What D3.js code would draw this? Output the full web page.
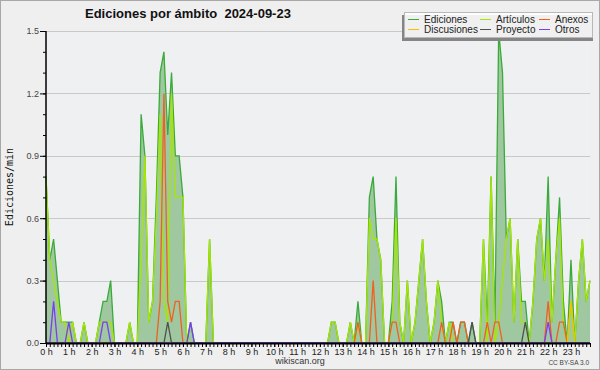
<!DOCTYPE html>
<html>
<head>
<meta charset="utf-8">
<script src="https://cdnjs.cloudflare.com/ajax/libs/d3/7.8.5/d3.min.js"></script>
<style>
body { margin: 0; background: #efefef; }
svg { display: block; }
text { font-family: "Liberation Sans", Arial, sans-serif; }
</style>
</head>
<body>
<div id="chart"></div>
<script>
// labels
var titulo = "Ediciones por ámbito  2024-09-23";
var horas = ["0 h","1 h","2 h","3 h","4 h","5 h","6 h","7 h","8 h","9 h","10 h","11 h",
             "12 h","13 h","14 h","15 h","16 h","17 h","18 h","19 h","20 h","21 h","22 h","23 h"];
var yTicks = [0, 0.3, 0.6, 0.9, 1.2, 1.5];
var yLabels = ["0.0", "0.3", "0.6", "0.9", "1.2", "1.5"];
var nombres = ["Ediciones", "Artículos", "Anexos", "Discusiones", "Proyecto", "Otros"];

// edits per minute, one value every 10 minutes (two hours per line)
var ediciones = [
  0.8,0.4,0.5,0.3,0.1,0.1, 0.1,0.1,0,0,0.1,0,
  0,0,0.1,0.2,0.2,0.3, 0,0,0,0,0.1,0,
  0,1.1,0.9,0.1,0.2,0.7, 1.3,1.4,1.0,1.3,0.9,0.9,
  0.7,0,0.1,0,0,0, 0,0.5,0,0,0,0,
  0,0,0,0,0,0, 0,0,0,0,0,0,
  0,0,0,0,0,0, 0,0,0,0,0,0,
  0,0,0,0.1,0.1,0, 0,0,0.1,0,0.2,0,
  0,0.7,0.8,0.5,0.4,0, 0,0.2,0.8,0.1,0,0.3,
  0,0.1,0.3,0.5,0.2,0, 0.1,0.3,0.2,0,0.1,0.1,
  0,0.1,0.1,0,0.1,0, 0,0.5,0.1,0.8,0.1,1.5,
  1.3,0.5,0.6,0.1,0.5,0.2, 0.2,0,0.2,0.5,0.6,0.3,
  0.8,0.1,0.4,0.7,0.2,0, 0.4,0,0.3,0.5,0.2,0.3
];
var articulos = [
  0.8,0.4,0.3,0.2,0.1,0.1, 0,0.1,0,0,0.1,0,
  0,0,0.1,0.1,0.1,0.1, 0,0,0,0,0.1,0,
  0,0.4,0.9,0.1,0.2,0.6, 1.1,0.2,0.1,1.2,0.7,0.7,
  0.7,0,0,0,0,0, 0,0.5,0,0,0,0,
  0,0,0,0,0,0, 0,0,0,0,0,0,
  0,0,0,0,0,0, 0,0,0,0,0,0,
  0,0,0,0.1,0.1,0, 0,0,0.1,0,0.1,0,
  0,0.6,0.5,0.5,0.4,0, 0,0.1,0.6,0.1,0,0.3,
  0,0.1,0.3,0.5,0.2,0, 0.1,0.3,0.1,0,0.1,0,
  0,0,0,0,0,0, 0,0.5,0,0.8,0,0.1,
  0.3,0.5,0.6,0.1,0.5,0.1, 0.1,0,0.2,0.5,0.6,0.3,
  0.5,0.1,0.4,0.6,0.1,0, 0.2,0,0.3,0.5,0.2,0.3
];
var anexos = [
  0,0,0,0,0,0, 0,0,0,0,0,0,
  0,0,0,0,0,0, 0,0,0,0,0,0,
  0,0,0,0,0,0, 0.2,1.2,0.2,0.1,0.2,0.2,
  0,0,0,0,0,0, 0,0,0,0,0,0,
  0,0,0,0,0,0, 0,0,0,0,0,0,
  0,0,0,0,0,0, 0,0,0,0,0,0,
  0,0,0,0,0,0, 0,0,0,0,0.1,0,
  0,0,0.3,0,0,0, 0,0.1,0.1,0,0,0,
  0,0,0,0,0,0, 0,0,0.1,0,0,0.1,
  0,0.1,0.1,0,0,0, 0,0,0.1,0,0.1,0.1,
  0,0,0,0,0,0, 0,0,0,0,0,0,
  0.2,0,0,0.1,0.1,0, 0,0,0,0,0,0
];
var discusiones = [
  0,0,0,0,0,0, 0,0,0,0,0,0,
  0,0,0,0,0,0, 0,0,0,0,0,0,
  0,0,0,0,0,0, 0,0,0,0,0,0,
  0,0,0,0,0,0, 0,0,0,0,0,0,
  0,0,0,0,0,0, 0,0,0,0,0,0,
  0,0,0,0,0,0, 0,0,0,0,0,0,
  0,0,0,0,0,0, 0,0,0,0,0,0,
  0,0,0,0,0,0, 0,0,0,0,0,0,
  0,0,0,0,0,0, 0,0,0,0,0,0,
  0,0,0,0,0,0, 0,0,0,0,0,0,
  0,0,0,0,0,0, 0,0,0,0,0,0,
  0,0,0,0,0,0, 0.2,0,0,0,0,0
];
var proyecto = [
  0,0,0,0,0,0, 0,0,0,0,0,0,
  0,0,0,0,0,0, 0,0,0,0,0,0,
  0,0,0,0,0,0, 0,0,0.1,0,0,0,
  0,0,0,0,0,0, 0,0,0,0,0,0,
  0,0,0,0,0,0, 0,0,0,0,0,0,
  0,0,0,0,0,0, 0,0,0,0,0,0,
  0,0,0,0,0,0, 0,0,0,0,0,0,
  0,0,0,0,0,0, 0,0,0,0,0,0,
  0,0,0,0,0,0, 0,0,0,0,0,0,
  0,0,0,0,0.1,0, 0,0,0,0,0,0,
  0,0,0,0,0,0, 0.1,0,0,0,0,0,
  0,0,0,0,0,0, 0,0,0,0,0,0
];
var otros = [
  0,0,0.2,0,0,0, 0.1,0,0,0,0,0,
  0,0,0,0.1,0.1,0, 0,0,0,0,0,0,
  0,0,0,0,0,0, 0,0,0,0,0,0,
  0,0,0.1,0,0,0, 0,0,0,0,0,0,
  0,0,0,0,0,0, 0,0,0,0,0,0,
  0,0,0,0,0,0, 0,0,0,0,0,0,
  0,0,0,0,0,0, 0,0,0,0,0,0,
  0,0,0,0,0,0, 0,0,0,0,0,0,
  0,0,0,0,0,0, 0,0,0,0,0,0,
  0,0,0,0,0,0, 0,0,0,0,0,0,
  0,0,0,0,0,0, 0,0,0,0,0,0,
  0.1,0,0,0,0,0, 0,0,0,0,0,0
];

var series = [ediciones, articulos, anexos, discusiones, proyecto, otros];
var colores = ["#3aaa3a", "#a6e600", "#f06020", "#f2c200", "#505050", "#7a3ef0"];

// setup
var width = 600, height = 370;
var plotL = 46, plotR = 590, plotT = 31, plotB = 343;

var svg = d3.select("#chart").append("svg")
  .attr("width", width)
  .attr("height", height);

svg.append("rect")
  .attr("x", 0.5).attr("y", 0.5)
  .attr("width", width - 1).attr("height", height - 1)
  .attr("fill", "#efefef")
  .attr("stroke", "#a8a8a8");

svg.append("rect")
  .attr("x", plotL).attr("y", plotT)
  .attr("width", plotR - plotL).attr("height", plotB - plotT)
  .attr("fill", "#eef0f2");

var x = d3.scaleLinear().domain([0, ediciones.length - 1]).range([plotL, plotR]);
var y = d3.scaleLinear().domain([0, 1.5]).range([plotB, plotT]);

//grid
svg.append("g").selectAll("line")
  .data(yTicks.slice(1))
  .join("line")
  .attr("x1", plotL).attr("x2", plotR)
  .attr("y1", d => Math.round(y(d)) + 0.5).attr("y2", d => Math.round(y(d)) + 0.5)
  .attr("stroke", "#c9c9c9");

//area + lines
svg.append("path")
  .datum(ediciones)
  .attr("fill", "#a0c8a0")
  .attr("d", d3.area().x((d, i) => x(i)).y0(y(0)).y1(d => y(d)));

var linea = d3.line().x((d, i) => x(i)).y(d => y(d));
series.forEach(function (s, k) {
  svg.append("path")
    .datum(s)
    .attr("fill", "none")
    .attr("stroke", colores[k])
    .attr("stroke-width", 1.3)
    .attr("d", linea);
});

//axes
var hourIdx = horas.map((h, i) => i * 6);
var xMinor = svg.append("g")
  .attr("transform", "translate(0," + plotB + ")")
  .call(d3.axisBottom(x).tickValues(ediciones.map((d, i) => i)).tickSize(4).tickFormat(""));
xMinor.select(".domain").remove();

var xAxis = svg.append("g")
  .attr("transform", "translate(0," + plotB + ")")
  .call(d3.axisBottom(x).tickValues(hourIdx).tickSize(4).tickPadding(2)
    .tickFormat((d, i) => horas[i]));
xAxis.select(".domain").attr("stroke-width", 2).attr("d", "M" + plotL + ",0.5H" + plotR);
xAxis.selectAll("text").attr("font-size", 9).attr("fill", "#222")
  .style("font-family", "Liberation Sans, Arial, sans-serif");

var yMinor = svg.append("g")
  .attr("transform", "translate(" + plotL + ",0)")
  .call(d3.axisLeft(y).tickValues(d3.range(16).map(k => k / 10)).tickSize(3).tickFormat(""));
yMinor.select(".domain").remove();

var yAxis = svg.append("g")
  .attr("transform", "translate(" + plotL + ",0)")
  .call(d3.axisLeft(y).tickValues(yTicks).tickSize(6).tickPadding(1)
    .tickFormat((d, i) => yLabels[i]));
yAxis.select(".domain").attr("stroke-width", 1.5).attr("d", "M0," + plotT + "V" + plotB);
yAxis.selectAll("text").attr("font-size", 9).attr("fill", "#444")
  .style("font-family", "Liberation Sans, Arial, sans-serif");

svg.append("text")
  .attr("transform", "translate(13,187) rotate(-90)")
  .attr("text-anchor", "middle")
  .style("font-family", "DejaVu Sans Mono, monospace")
  .attr("font-size", 10)
  .attr("fill", "#111")
  .text("Ediciones/min");

//title
svg.append("text")
  .attr("x", 85).attr("y", 18)
  .attr("font-size", 13)
  .attr("font-weight", "bold")
  .attr("fill", "#111")
  .style("white-space", "pre")
  .text(titulo);

//legend
svg.append("rect")
  .attr("x", 402).attr("y", 15).attr("width", 191).attr("height", 26)
  .attr("fill", "#858585");
svg.append("rect")
  .attr("x", 404.5).attr("y", 12.5).attr("width", 188).attr("height", 25)
  .attr("fill", "#ffffff").attr("fill-opacity", 0.88)
  .attr("stroke", "#b8b8b8");

var legX = [408, 480, 539];
var legY = [19, 29];
nombres.forEach(function (n, k) {
  var cx = legX[k % 3];
  var cy = legY[Math.floor(k / 3)];
  svg.append("line")
    .attr("x1", cx).attr("x2", cx + 11)
    .attr("y1", cy + 0.5).attr("y2", cy + 0.5)
    .attr("stroke", colores[k]).attr("stroke-width", 1);
  svg.append("text")
    .attr("x", cx + 16).attr("y", cy + 4)
    .attr("font-size", 10)
    .attr("fill", "#222")
    .text(n);
});

//footer
svg.append("text")
  .attr("x", 300).attr("y", 364)
  .attr("text-anchor", "middle")
  .attr("font-size", 9)
  .attr("fill", "#333")
  .text("wikiscan.org");

svg.append("text")
  .attr("x", 589).attr("y", 365)
  .attr("text-anchor", "end")
  .attr("font-size", 6.5)
  .attr("fill", "#444")
  .text("CC BY-SA 3.0");
</script>
</body>
</html>
